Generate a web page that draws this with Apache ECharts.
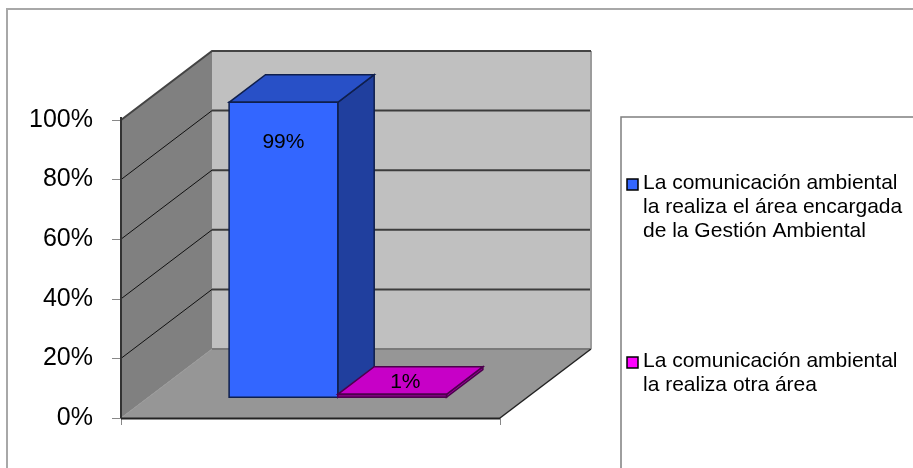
<!DOCTYPE html>
<html>
<head>
<meta charset="utf-8">
<script src="https://cdn.jsdelivr.net/npm/echarts@6/dist/echarts.min.js"></script>
<style>
html,body{margin:0;padding:0;background:#fff;}
#chart{width:913px;height:468px;}
</style>
</head>
<body>
<div id="chart"></div>
<script>
// ---- data ----
const categories = [''];
const seriesNames = [
  'La comunicación ambiental\nla realiza el área encargada\nde la Gestión Ambiental',
  'La comunicación ambiental\nla realiza otra área'
];
const valuesArea = [99];
const valuesOther = [1];
const yTicks = [0, 20, 40, 60, 80, 100];
const seriesColors = ['#3366ff', '#ff00ff'];

// ---- 3D style constants ----
const DX = 91, DY = -69;          // depth vector
const F0 = 0.3, F1 = 0.7;         // bar depth range
const BAR_FRAC = 0.2868;          // bar width / category band
const FONT = '"Liberation Sans", Arial, sans-serif';

function shade(hex, f) {
  const n = parseInt(hex.slice(1), 16);
  const r = Math.round(((n >> 16) & 255) * f);
  const g = Math.round(((n >> 8) & 255) * f);
  const b = Math.round((n & 255) * f);
  return 'rgb(' + r + ',' + g + ',' + b + ')';
}

function renderFrame(params, api) {
  const band = api.size([1, 0])[0];
  const c = api.coord([0, 0]);
  const x0 = c[0] - band / 2, x1 = c[0] + band / 2;
  const yB = c[1];
  const yT = api.coord([0, yTicks[yTicks.length - 1]])[1];
  const ch = [];
  ch.push({type: 'polygon', shape: {points: [[x0 + DX, yT + DY], [x1 + DX, yT + DY], [x1 + DX, yB + DY], [x0 + DX, yB + DY]]}, style: {fill: '#c0c0c0'}});
  ch.push({type: 'polygon', shape: {points: [[x0, yT], [x0 + DX, yT + DY], [x0 + DX, yB + DY], [x0, yB]]}, style: {fill: '#808080'}});
  ch.push({type: 'polygon', shape: {points: [[x0, yB], [x1, yB], [x1 + DX, yB + DY], [x0 + DX, yB + DY]]}, style: {fill: '#969696'}});
  yTicks.forEach(function (v) {
    const y = api.coord([0, v])[1];
    ch.push({type: 'line', shape: {x1: x0 + DX, y1: y + DY, x2: x1 + DX, y2: y + DY}, style: {stroke: v === 0 ? '#7a7a7a' : '#3c3c3c', lineWidth: 2}});
    if (v > 0 && v < 100) {
      ch.push({type: 'line', shape: {x1: x0, y1: y, x2: x0 + DX, y2: y + DY}, style: {stroke: '#111', lineWidth: 1}});
    }
  });
  ch.push({type: 'line', shape: {x1: x0, y1: yB, x2: x0 + DX, y2: yB + DY}, style: {stroke: '#9a9a9a', lineWidth: 1}});
  ch.push({type: 'line', shape: {x1: x1 + DX, y1: yT + DY, x2: x1 + DX, y2: yB + DY}, style: {stroke: '#9c9c9c', lineWidth: 2}});
  ch.push({type: 'polyline', shape: {points: [[x0, yT], [x0 + DX, yT + DY], [x1 + DX, yT + DY]]}, style: {stroke: '#444', lineWidth: 2, fill: null}});
  ch.push({type: 'line', shape: {x1: x1, y1: yB, x2: x1 + DX, y2: yB + DY}, style: {stroke: '#222', lineWidth: 1.5}});
  ch.push({type: 'line', shape: {x1: x0, y1: yB + 0.5, x2: x1, y2: yB + 0.5}, style: {stroke: '#222', lineWidth: 2}});
  ch.push({type: 'line', shape: {x1: x0, y1: yT - 3, x2: x0, y2: yB}, style: {stroke: '#333', lineWidth: 2}});
  return {type: 'group', children: ch};
}

function makeBar(k) {
  return function (params, api) {
    const color = seriesColors[k];
    const band = api.size([1, 0])[0];
    const w = band * BAR_FRAC;
    const cat = api.value(0), val = api.value(1);
    const c0 = api.coord([cat, 0]);
    const c1 = api.coord([cat, val]);
    const xl = c0[0] - w + k * w + F0 * DX;
    const xr = xl + w;
    const yb = c0[1] + F0 * DY;
    const yt = c1[1] + F0 * DY;
    const ddx = (F1 - F0) * DX, ddy = (F1 - F0) * DY;
    const border = shade(color, 0.3);
    const ch = [];
    ch.push({type: 'polygon', shape: {points: [[xr, yt], [xr + ddx, yt + ddy], [xr + ddx, yb + ddy], [xr, yb]]}, style: {fill: shade(color, 0.62), stroke: border, lineWidth: 1.5}});
    ch.push({type: 'polygon', shape: {points: [[xl, yt], [xr, yt], [xr + ddx, yt + ddy], [xl + ddx, yt + ddy]]}, style: {fill: shade(color, 0.78), stroke: border, lineWidth: 1.5}});
    ch.push({type: 'rect', shape: {x: xl, y: yt, width: w, height: yb - yt}, style: {fill: val < 5 ? shade(color, 0.5) : color, stroke: border, lineWidth: 1.5}});
    let lx, ly;
    if (yb - yt > 60) { lx = (xl + xr) / 2; ly = yt + 40; }
    else { lx = (xl + xr) / 2 + ddx / 2 - 5; ly = yt + ddy / 2 + 2; }
    ch.push({type: 'text', style: {text: val + '%', x: lx, y: ly, align: 'center', verticalAlign: 'middle', fontSize: 21, fontFamily: FONT, fill: '#000'}});
    return {type: 'group', children: ch};
  };
}

const chart = echarts.init(document.getElementById('chart'), null, {renderer: 'canvas'});

const legendGraphics = [];
legendGraphics.push({type: 'rect', shape: {x: 7, y: 9, width: 1000, height: 600}, style: {fill: null, stroke: '#a8a8a8', lineWidth: 2}, z: -10, silent: true});
legendGraphics.push({type: 'rect', shape: {x: 621, y: 117, width: 400, height: 400}, style: {fill: '#fff', stroke: '#7f7f7f', lineWidth: 1.5}, z: 1});
const legendTops = [171, 349];
seriesNames.forEach(function (name, i) {
  legendGraphics.push({type: 'rect', shape: {x: 627, y: legendTops[i] + 8, width: 11, height: 11}, style: {fill: seriesColors[i], stroke: '#000', lineWidth: 1.5}, z: 2});
  legendGraphics.push({type: 'text', x: 643, y: legendTops[i], style: {text: name, fontSize: 21, fontFamily: FONT, fill: '#000', lineHeight: 24, verticalAlign: 'top', align: 'left'}, z: 2});
});

chart.setOption({
  animation: false,
  backgroundColor: '#fff',
  grid: {left: 121, right: 413, top: 120, bottom: 50, containLabel: false},
  xAxis: {
    type: 'category', data: categories, boundaryGap: true,
    axisLine: {show: false},
    axisTick: {show: true, length: 7, lineStyle: {color: '#888'}},
    axisLabel: {show: false},
    splitLine: {show: false}
  },
  yAxis: {
    type: 'value', min: 0, max: 100, interval: 20,
    axisLine: {show: false},
    axisTick: {show: true, length: 9, lineStyle: {color: '#888'}},
    axisLabel: {formatter: '{value}%', fontSize: 25, fontFamily: FONT, color: '#000', margin: 28},
    splitLine: {show: false}
  },
  graphic: legendGraphics,
  series: [
    {type: 'custom', name: 'frame', renderItem: renderFrame, data: [[0, 0]], z: 1, silent: true},
    {type: 'custom', name: seriesNames[0], renderItem: makeBar(0), data: valuesArea.map(function (v, i) { return [i, v]; }), z: 3},
    {type: 'custom', name: seriesNames[1], renderItem: makeBar(1), data: valuesOther.map(function (v, i) { return [i, v]; }), z: 4}
  ]
});
</script>
</body>
</html>
